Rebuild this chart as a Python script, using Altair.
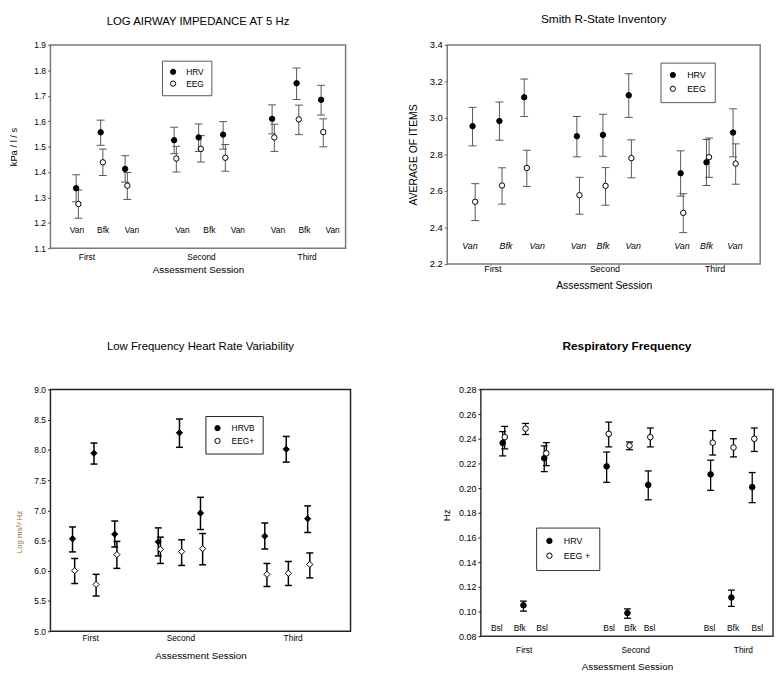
import altair as alt
import pandas as pd

FONT = "Liberation Sans"

# ---------------- Panel 1: Log airway impedance at 5 Hz ----------------
p1_groups = ["HRV", "EEG"]
p1_x = [1, 2, 3, 5, 6, 7, 9, 10, 11]
p1_hrv = [1.336, 1.556, 1.412, 1.525, 1.536, 1.547, 1.609, 1.749, 1.684]
p1_hrv_hi = [1.389, 1.604, 1.464, 1.576, 1.589, 1.598, 1.664, 1.809, 1.741]
p1_hrv_lo = [1.283, 1.505, 1.360, 1.472, 1.481, 1.490, 1.550, 1.685, 1.624]
p1_eeg = [1.274, 1.438, 1.346, 1.453, 1.491, 1.456, 1.536, 1.607, 1.557]
p1_eeg_hi = [1.329, 1.490, 1.398, 1.501, 1.543, 1.508, 1.588, 1.663, 1.609]
p1_eeg_lo = [1.218, 1.386, 1.292, 1.400, 1.439, 1.403, 1.481, 1.547, 1.499]
p1_cond = ["Van", "Bfk", "Van", "Van", "Bfk", "Van", "Van", "Bfk", "Van"]
p1_cond_x = [1.03, 2.1, 3.28, 5.34, 6.44, 7.6, 9.24, 10.32, 11.47]
p1_cond_y = 1.171
p1_sessions = ["First", "Second", "Third"]
p1_session_x = [1.42, 6.1, 10.41]
p1_yticks = [1.1, 1.2, 1.3, 1.4, 1.5, 1.6, 1.7, 1.8, 1.9]

# ---------------- Panel 2: Smith R-State Inventory ----------------
p2_groups = ["HRV", "EEG"]
p2_x = [0.97, 2.0, 2.95, 4.97, 5.97, 6.96, 8.95, 9.94, 10.96]
p2_hrv = [2.955, 2.983, 3.113, 2.900, 2.907, 3.124, 2.697, 2.757, 2.920]
p2_hrv_hi = [3.058, 3.087, 3.213, 3.008, 3.020, 3.242, 2.820, 2.882, 3.050]
p2_hrv_lo = [2.847, 2.878, 3.008, 2.787, 2.790, 3.003, 2.572, 2.630, 2.787]
p2_eeg = [2.541, 2.630, 2.726, 2.577, 2.628, 2.780, 2.480, 2.785, 2.750]
p2_eeg_hi = [2.640, 2.727, 2.823, 2.675, 2.728, 2.880, 2.585, 2.890, 2.858]
p2_eeg_lo = [2.438, 2.528, 2.625, 2.473, 2.522, 2.672, 2.372, 2.675, 2.637]
p2_cond = ["Van", "Bfk", "Van", "Van", "Bfk", "Van", "Van", "Bfk", "Van"]
p2_cond_x = [0.87, 2.25, 3.45, 5.03, 5.97, 7.13, 9.0, 9.94, 11.03]
p2_cond_y = 2.301
p2_sessions = ["First", "Second", "Third"]
p2_session_x = [1.73, 6.03, 10.25]
p2_yticks = [2.2, 2.4, 2.6, 2.8, 3.0, 3.2, 3.4]

# ---------------- Panel 3: Low frequency HRV ----------------
p3_groups = ["HRVB", "EEG+"]
p3_x = [1.03, 2.03, 3.0, 5.03, 6.02, 7.0, 10.0, 11.0, 12.0]
p3_hrv = [6.529, 7.944, 6.605, 6.480, 8.282, 6.954, 6.573, 8.010, 6.861]
p3_hrv_hi = [6.725, 8.113, 6.823, 6.709, 8.510, 7.215, 6.790, 8.222, 7.073]
p3_hrv_lo = [6.312, 7.765, 6.393, 6.246, 8.042, 6.682, 6.360, 7.797, 6.633]
p3_eeg = [6.001, 5.773, 6.268, 6.355, 6.317, 6.366, 5.941, 5.958, 6.105]
p3_eeg_hi = [6.203, 5.941, 6.486, 6.556, 6.513, 6.616, 6.121, 6.154, 6.295]
p3_eeg_lo = [5.789, 5.582, 6.040, 6.121, 6.088, 6.099, 5.740, 5.757, 5.882]
p3_cond = []
p3_cond_x = []
p3_cond_y = 5.0
p3_sessions = ["First", "Second", "Third"]
p3_session_x = [1.85, 6.06, 11.3]
p3_yticks = [5.0, 5.5, 6.0, 6.5, 7.0, 7.5, 8.0, 8.5, 9.0]

# ---------------- Panel 4: Respiratory frequency ----------------
p4_groups = ["HRV", "EEG +"]
p4_x = [1, 2, 3, 6, 7, 8, 11, 12, 13]
p4_hrv = [0.2366, 0.1050, 0.2242, 0.2176, 0.0987, 0.2026, 0.2111, 0.1113, 0.2008]
p4_hrv_hi = [0.2458, 0.1084, 0.2342, 0.2292, 0.1021, 0.2139, 0.2226, 0.1174, 0.2126]
p4_hrv_lo = [0.2261, 0.1003, 0.2134, 0.2047, 0.0945, 0.1905, 0.1982, 0.1042, 0.1882]
p4_eeg = [0.2413, 0.2482, 0.2282, 0.2439, 0.2345, 0.2413, 0.2368, 0.2329, 0.2400]
p4_eeg_hi = [0.2500, 0.2524, 0.2368, 0.2534, 0.2374, 0.2487, 0.2466, 0.2400, 0.2487]
p4_eeg_lo = [0.2318, 0.2434, 0.2182, 0.2334, 0.2311, 0.2334, 0.2268, 0.2253, 0.2297]
p4_cond = ["Bsl", "Bfk", "Bsl", "Bsl", "Bfk", "Bsl", "Bsl", "Bfk", "Bsl"]
p4_cond_x = [0.72, 1.82, 2.89, 6.12, 7.14, 8.06, 10.95, 12.08, 13.24]
p4_cond_y = 0.0866
p4_sessions = ["First", "Second", "Third"]
p4_session_x = [2.01, 7.37, 12.55]
p4_yticks = [0.08, 0.10, 0.12, 0.14, 0.16, 0.18, 0.20, 0.22, 0.24, 0.26, 0.28]


def session_expr(names, pos):
    m1 = (pos[0] + pos[1]) / 2
    m2 = (pos[1] + pos[2]) / 2
    return (f"datum.value < {m1} ? '{names[0]}' : "
            f"datum.value < {m2} ? '{names[1]}' : '{names[2]}'")


def build_panel(d, s):
    n = len(d["x"])
    df = pd.DataFrame({
        "x": list(d["x"]) + [v + s["shift"] for v in d["x"]],
        "y": list(d["hrv"]) + list(d["eeg"]),
        "lo": list(d["hrv_lo"]) + list(d["eeg_lo"]),
        "hi": list(d["hrv_hi"]) + list(d["eeg_hi"]),
        "g": [d["groups"][0]] * n + [d["groups"][1]] * n,
    })
    w, h = s["w"], s["h"]
    xs = alt.Scale(domain=s["xdom"], nice=False, zero=False)
    ys = alt.Scale(domain=s["ydom"], nice=False, zero=False)
    xaxis = alt.Axis(
        values=d["session_x"], labelExpr=session_expr(d["sessions"], d["session_x"]),
        ticks=False, tickSize=0, domain=False, grid=False, labelOverlap=False,
        tickCount=50,
        labelFont=FONT, labelFontSize=s["xlab_fs"], labelPadding=s["xlab_pad"],
        labelBaseline="middle", labelColor="black", labelAngle=0,
        title="Assessment Session", titleFont=FONT, titleFontSize=s["xtitle_fs"],
        titleFontWeight="normal", titleX=w / 2, titleY=s["xtitle_y"],
        titleBaseline="middle", titleAlign="center", titleColor="black",
    )
    yaxis = alt.Axis(
        values=d["yticks"], format=s["yfmt"], grid=False, domain=False,
        ticks=True, tickSize=3, tickColor=s["tick_color"], labelOverlap=False,
        tickCount=50,
        labelFont=FONT, labelFontSize=s["ylab_fs"], labelPadding=2, labelColor="black",
        title=s["ytitle"], titleFont=FONT, titleFontSize=s["ytitle_fs"],
        titleFontWeight="normal", titleColor=s["ytitle_color"],
        titleX=s["ytitle_x"], titleY=s["ytitle_y"], titleBaseline="middle",
        titleAlign="center", titleAngle=270,
    )
    X = alt.X("x:Q", scale=xs, axis=xaxis)
    base = alt.Chart(df)
    rules = base.mark_rule(color=s["eb"], strokeWidth=s["ebw"]).encode(
        x=X, y=alt.Y("lo:Q", scale=ys, axis=yaxis), y2="hi:Q")
    cap_hi = base.mark_tick(orient="horizontal", size=s["capw"], thickness=s["ebw"],
                            color=s["eb"], opacity=1).encode(
        x=alt.X("x:Q", scale=xs), y=alt.Y("hi:Q", scale=ys))
    cap_lo = base.mark_tick(orient="horizontal", size=s["capw"], thickness=s["ebw"],
                            color=s["eb"], opacity=1).encode(
        x=alt.X("x:Q", scale=xs), y=alt.Y("lo:Q", scale=ys))
    legend = alt.Legend(
        title=None, orient="none", legendX=s["lx"], legendY=s["ly"],
        direction="vertical", strokeColor=s["legend_stroke"], fillColor="white",
        padding=s["lpad"], labelFont=FONT, labelFontSize=s["leg_fs"],
        labelColor="black", symbolType="circle", symbolSize=s["lsym"],
        symbolStrokeColor="black", symbolStrokeWidth=1, rowPadding=s["lrow"],
        labelOffset=s["loff"], cornerRadius=0,
    )
    pts = base.mark_point(filled=True, shape=s["shape"], size=s["msize"],
                          stroke="black", strokeWidth=1, opacity=1).encode(
        x=alt.X("x:Q", scale=xs), y=alt.Y("y:Q", scale=ys),
        fill=alt.Fill("g:N", scale=alt.Scale(domain=d["groups"], range=["black", "white"]),
                      legend=legend),
    )
    layers = [rules, cap_hi, cap_lo, pts]
    if d["cond"]:
        cdf = pd.DataFrame({"cx": d["cond_x"], "cy": [d["cond_y"]] * len(d["cond"]),
                            "lab": d["cond"]})
        txt = alt.Chart(cdf).mark_text(
            font=FONT, fontSize=s["cond_fs"], fontStyle=s["cond_style"], color="black"
        ).encode(x=alt.X("cx:Q", scale=xs), y=alt.Y("cy:Q", scale=ys), text="lab:N")
        layers.append(txt)
    return alt.layer(*layers).properties(
        width=w, height=h,
        title=alt.Title(s["title"], font=FONT, fontSize=s["title_fs"],
                        fontWeight=s["title_fw"], offset=s["title_off"],
                        anchor="middle", color="black"),
        view=alt.ViewBackground(stroke=s["frame"], strokeWidth=s["frame_w"]),
    )


p1 = build_panel(
    dict(groups=p1_groups, x=p1_x, hrv=p1_hrv, hrv_lo=p1_hrv_lo, hrv_hi=p1_hrv_hi,
         eeg=p1_eeg, eeg_lo=p1_eeg_lo, eeg_hi=p1_eeg_hi, cond=p1_cond, cond_x=p1_cond_x,
         cond_y=p1_cond_y, sessions=p1_sessions, session_x=p1_session_x, yticks=p1_yticks),
    dict(w=299, h=206, shift=0.09, xdom=[-0.05, 12.0], ydom=[1.1, 1.9], yfmt=".1f",
         xlab_fs=8.5, xlab_pad=8, xtitle_fs=10, xtitle_y=22, ylab_fs=8.5,
         ytitle="kPa / l / s", ytitle_fs=9.5, ytitle_color="black", ytitle_x=-37,
         ytitle_y=103, tick_color="#666", eb="#555", ebw=1, capw=8,
         lx=113, ly=16, legend_stroke="#555", lpad=7, leg_fs=8.5, lsym=28, lrow=2, loff=9,
         shape="circle", msize=30, cond_fs=8.5, cond_style="normal",
         title="LOG AIRWAY IMPEDANCE AT 5 Hz", title_fs=11.5, title_fw="normal",
         title_off=14, frame="#7a7a7a", frame_w=1.5))

p2 = build_panel(
    dict(groups=p2_groups, x=p2_x, hrv=p2_hrv, hrv_lo=p2_hrv_lo, hrv_hi=p2_hrv_hi,
         eeg=p2_eeg, eeg_lo=p2_eeg_lo, eeg_hi=p2_eeg_hi, cond=p2_cond, cond_x=p2_cond_x,
         cond_y=p2_cond_y, sessions=p2_sessions, session_x=p2_session_x, yticks=p2_yticks),
    dict(w=317, h=222, shift=0.1, xdom=[0.0, 12.0], ydom=[2.2, 3.4], yfmt=".1f",
         xlab_fs=9, xlab_pad=5, xtitle_fs=10.5, xtitle_y=22, ylab_fs=9.5,
         ytitle="AVERAGE OF ITEMS", ytitle_fs=10.5, ytitle_color="black", ytitle_x=-34,
         ytitle_y=111, tick_color="#666", eb="#555", ebw=1, capw=8,
         lx=216, ly=18, legend_stroke="#555", lpad=8, leg_fs=9, lsym=28, lrow=3, loff=10,
         shape="circle", msize=30, cond_fs=9, cond_style="italic",
         title="Smith R-State Inventory", title_fs=12, title_fw="normal",
         title_off=14, frame="#7a7a7a", frame_w=1.5))

p3 = build_panel(
    dict(groups=p3_groups, x=p3_x, hrv=p3_hrv, hrv_lo=p3_hrv_lo, hrv_hi=p3_hrv_hi,
         eeg=p3_eeg, eeg_lo=p3_eeg_lo, eeg_hi=p3_eeg_hi, cond=p3_cond, cond_x=p3_cond_x,
         cond_y=p3_cond_y, sessions=p3_sessions, session_x=p3_session_x, yticks=p3_yticks),
    dict(w=304, h=245, shift=0.1, xdom=[0.0, 14.0], ydom=[5.0, 9.0], yfmt=".1f",
         xlab_fs=8.5, xlab_pad=6, xtitle_fs=10, xtitle_y=25, ylab_fs=8.5,
         ytitle="Log ms\u00b2/ Hz", ytitle_fs=8, ytitle_color="#8a6a2e", ytitle_x=-31,
         ytitle_y=144, tick_color="#222", eb="black", ebw=1.5, capw=7,
         lx=157, ly=27, legend_stroke="#222", lpad=8, leg_fs=8.5, lsym=28, lrow=3, loff=10,
         shape="diamond", msize=40, cond_fs=8.5, cond_style="normal",
         title="Low Frequency Heart Rate Variability", title_fs=11.5, title_fw="normal",
         title_off=33, frame="#222", frame_w=1.5))

p4 = build_panel(
    dict(groups=p4_groups, x=p4_x, hrv=p4_hrv, hrv_lo=p4_hrv_lo, hrv_hi=p4_hrv_hi,
         eeg=p4_eeg, eeg_lo=p4_eeg_lo, eeg_hi=p4_eeg_hi, cond=p4_cond, cond_x=p4_cond_x,
         cond_y=p4_cond_y, sessions=p4_sessions, session_x=p4_session_x, yticks=p4_yticks),
    dict(w=296, h=250, shift=0.1, xdom=[-0.05, 14.0], ydom=[0.08, 0.28], yfmt=".2f",
         xlab_fs=8.5, xlab_pad=14, xtitle_fs=10, xtitle_y=31, ylab_fs=9,
         ytitle="Hz", ytitle_fs=10, ytitle_color="black", ytitle_x=-35,
         ytitle_y=127, tick_color="#222", eb="black", ebw=1.3, capw=7,
         lx=56, ly=140, legend_stroke="#333", lpad=9, leg_fs=9, lsym=30, lrow=4, loff=10,
         shape="circle", msize=32, cond_fs=8.5, cond_style="normal",
         title="Respiratory Frequency", title_fs=12, title_fw="bold",
         title_off=33, frame="#333", frame_w=1.5))

row1 = alt.hconcat(p1, p2, spacing=62).resolve_scale(fill="independent")
row2 = alt.hconcat(p3, p4, spacing=90).resolve_scale(fill="independent")

chart = alt.vconcat(row1, row2, spacing=47).resolve_scale(
    fill="independent").properties(padding=0, background="white")

chart.save("out.html", embed_options={"renderer": "svg", "actions": False})
